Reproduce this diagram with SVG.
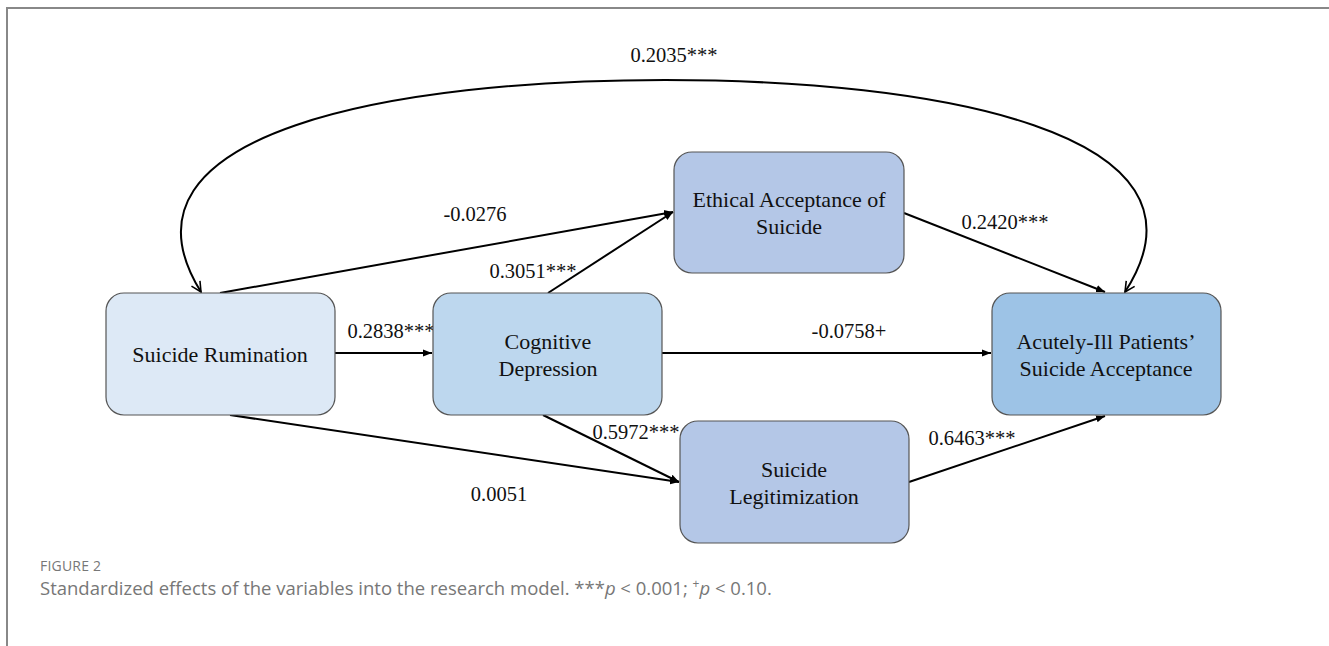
<svg xmlns="http://www.w3.org/2000/svg" width="1329" height="646" viewBox="0 0 1329 646">
<defs>
<marker id="ah" viewBox="0 0 10 10" refX="10" refY="5" markerWidth="9" markerHeight="9" markerUnits="userSpaceOnUse" orient="auto">
<path d="M0,1 L10,5 L0,9 z" fill="#000"/>
</marker>
<marker id="av" viewBox="0 0 12 12" refX="11" refY="6" markerWidth="12" markerHeight="12" markerUnits="userSpaceOnUse" orient="auto">
<path d="M1,1 L11,6 L1,11" fill="none" stroke="#000" stroke-width="1.6"/>
</marker>
</defs>
<style>
.box{stroke:#555;stroke-width:1.2}
.nt{font-family:"Liberation Serif","Times New Roman",serif;font-size:22px;fill:#111;text-anchor:middle}
.lb{font-family:"Liberation Serif","Times New Roman",serif;font-size:20.5px;fill:#111;text-anchor:middle}
.ln{stroke:#000;stroke-width:2;fill:none;marker-end:url(#ah)}
.cap{font-family:"Open Sans",sans-serif;fill:#777}
</style>
<rect width="1329" height="646" fill="#fff"/>
<path d="M7,646 V8 H1329" fill="none" stroke="#888" stroke-width="2"/>

<g id="connectors">
<path d="M665,80 C400,80 100,130 201,292" fill="none" stroke="#000" stroke-width="2" marker-end="url(#av)"/>
<path d="M665,80 C930,80 1230,130 1125,292" fill="none" stroke="#000" stroke-width="2" marker-end="url(#av)"/>
<line class="ln" x1="335" y1="353" x2="432" y2="353"/>
<line class="ln" x1="220" y1="293" x2="673" y2="212"/>
<line class="ln" x1="548" y1="293" x2="673" y2="212"/>
<line class="ln" x1="662" y1="353" x2="991" y2="353"/>
<line class="ln" x1="904" y1="213" x2="1105" y2="292"/>
<line class="ln" x1="230" y1="415" x2="679" y2="482"/>
<line class="ln" x1="543" y1="415" x2="679" y2="482"/>
<line class="ln" x1="909" y1="482" x2="1105" y2="416"/>
</g>

<g id="labels">
<text class="lb" x="674" y="62">0.2035***</text>
<text class="lb" x="475" y="221">-0.0276</text>
<text class="lb" x="533" y="278">0.3051***</text>
<text class="lb" x="391" y="338">0.2838***</text>
<text class="lb" x="849" y="338">-0.0758+</text>
<text class="lb" x="1005" y="229">0.2420***</text>
<text class="lb" x="636" y="439">0.5972***</text>
<text class="lb" x="972" y="445">0.6463***</text>
<text class="lb" x="499" y="501">0.0051</text>
</g>

<g id="node-rumination">
<rect class="box" x="106" y="293" width="229" height="122" rx="18" fill="#dde9f6"/>
<text class="nt" x="220" y="362">Suicide Rumination</text>
</g>
<g id="node-cognitive">
<rect class="box" x="433" y="293" width="229" height="122" rx="18" fill="#bdd7ee"/>
<text class="nt" x="548" y="349">Cognitive</text>
<text class="nt" x="548" y="376">Depression</text>
</g>
<g id="node-ethical">
<rect class="box" x="674" y="152" width="230" height="121" rx="18" fill="#b4c7e7"/>
<text class="nt" x="789" y="207">Ethical Acceptance of</text>
<text class="nt" x="789" y="234">Suicide</text>
</g>
<g id="node-acutely">
<rect class="box" x="992" y="293" width="229" height="122" rx="18" fill="#9dc3e6"/>
<text class="nt" x="1106" y="349">Acutely-Ill Patients’</text>
<text class="nt" x="1106" y="376">Suicide Acceptance</text>
</g>
<g id="node-legitimization">
<rect class="box" x="680" y="421" width="229" height="122" rx="18" fill="#b4c7e7"/>
<text class="nt" x="794" y="477">Suicide</text>
<text class="nt" x="794" y="504">Legitimization</text>
</g>

<g id="caption">
<text class="cap" x="40" y="571" font-size="14" letter-spacing="0.2">FIGURE 2</text>
<text class="cap" x="40" y="595" font-size="18.5" fill="#666">Standardized effects of the variables into the research model. ***<tspan font-style="italic">p</tspan> &lt; 0.001; <tspan font-size="12" dy="-7">+</tspan><tspan font-style="italic" dy="7">p</tspan> &lt; 0.10.</text>
</g>
</svg>
